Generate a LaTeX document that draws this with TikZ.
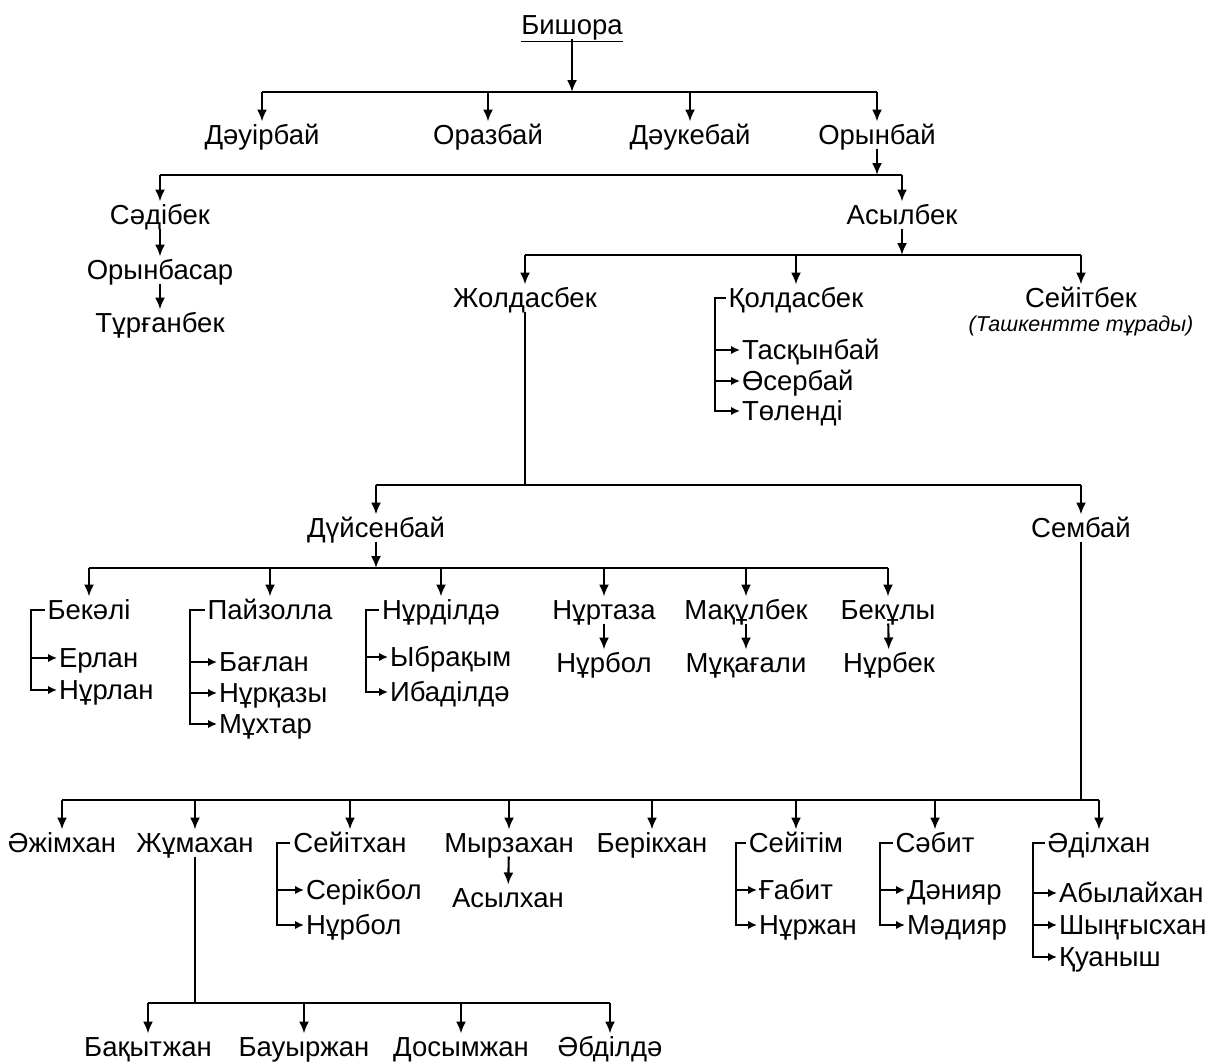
\documentclass[tikz,border=0pt]{standalone}
\usepackage{fontspec}
\setmainfont{Liberation Sans}
\usetikzlibrary{arrows.meta}
\begin{document}
\begin{tikzpicture}[x=1pt,y=-1pt,
  nm/.style={inner sep=0pt, outer sep=3pt, font=\fontsize{27.5}{30}\selectfont, text height=20pt, text depth=1pt},
  ch/.style={nm, anchor=west, outer sep=2pt},
  notestyle/.style={inner sep=0pt, font=\fontsize{21.5}{24}\selectfont\itshape},
  ln/.style={line width=2.1pt},
  arr/.style={ln, -{Latex[length=12pt,width=10pt]}},
  sarr/.style={ln, -{Latex[length=9pt,width=8.5pt]}}]
\useasboundingbox (0,0) rectangle (1211,1063);
\fill[white] (0,0) rectangle (1211,1063);

% level 0
\node[nm] (bish) at (572,25) {\underline{Бишора}};
\coordinate (b0) at (572,92);
\draw[arr] (bish) -- (b0);

% level 1
\node[nm] (dauir) at (262,135) {Дәуірбай};
\node[nm] (oraz)  at (488,135) {Оразбай};
\node[nm] (dauke) at (690,135) {Дәукебай};
\node[nm] (oryn)  at (877,135) {Орынбай};
\draw[ln] (dauir |- b0) -- (oryn |- b0);
\foreach \n in {dauir,oraz,dauke,oryn} \draw[arr] (\n |- b0) -- (\n);

% level 2
\coordinate (b1) at (877,175);
\node[nm] (sadi) at (160,215) {Сәдібек};
\node[nm] (asyl) at (902,215) {Асылбек};
\draw[arr] (oryn) -- (b1);
\draw[ln] (sadi |- b1) -- (asyl |- b1);
\draw[arr] (sadi |- b1) -- (sadi);
\draw[arr] (asyl |- b1) -- (asyl);
\node[nm] (orbas) at (160,270) {Орынбасар};
\node[nm] (turg)  at (160,323) {Тұрғанбек};
\draw[arr] (sadi) -- (orbas);
\draw[arr] (orbas) -- (turg);

% level 3
\coordinate (b2) at (902,255);
\draw[arr] (asyl) -- (b2);
\node[nm] (zhol) at (525,298) {Жолдасбек};
\node[nm] (qold) at (796,298) {Қолдасбек};
\node[nm] (seit) at (1081,298) {Сейітбек};
\node[notestyle] (seitnote) at (1081,326) {(Ташкентте тұрады)};
\draw[ln] (zhol |- b2) -- (seit |- b2);
\foreach \n in {zhol,qold,seit} \draw[arr] (\n |- b2) -- (\n);
\node[ch] (tas)   at (740,350) {Тасқынбай};
\node[ch] (oser)  at (740,381) {Өсербай};
\node[ch] (tolen) at (740,411) {Төленді};
\coordinate (qb) at (715,298);
\draw[sarr] (qold.west) -- (qb) |- (tas.west);
\draw[sarr] (qb) |- (oser.west);
\draw[sarr] (qb) |- (tolen.west);

% level 4
\coordinate (b3) at (525,485);
\node[nm] (duis) at (376,528) {Дүйсенбай};
\node[nm] (semb) at (1081,528) {Сембай};
\draw[ln] (zhol) -- (b3);
\draw[ln] (duis |- b3) -- (semb |- b3);
\draw[arr] (duis |- b3) -- (duis);
\draw[arr] (semb |- b3) -- (semb);

% level 5
\coordinate (b4) at (376,568);
\draw[arr] (duis) -- (b4);
\node[nm] (bekali) at (89,610)  {Бекәлі};
\node[nm] (payz)   at (270,610) {Пайзолла};
\node[nm] (nurd)   at (441,610) {Нұрділдә};
\node[nm] (nurt)   at (604,610) {Нұртаза};
\node[nm] (maqul)  at (746,610) {Мақұлбек};
\node[nm] (bekul)  at (888,610) {Бекұлы};
\draw[ln] (bekali |- b4) -- (bekul |- b4);
\foreach \n in {bekali,payz,nurd,nurt,maqul,bekul} \draw[arr] (\n |- b4) -- (\n);

\node[ch] (erlan)  at (57,658) {Ерлан};
\node[ch] (nurlan) at (57,690) {Нұрлан};
\coordinate (bkb) at (31,610);
\draw[sarr] (bekali.west) -- (bkb) |- (erlan.west);
\draw[sarr] (bkb) |- (nurlan.west);

\node[ch] (baglan)  at (217,662) {Бағлан};
\node[ch] (nurqazy) at (217,693) {Нұрқазы};
\node[ch] (mukhtar) at (217,724) {Мұхтар};
\coordinate (pzb) at (190,610);
\draw[sarr] (payz.west) -- (pzb) |- (baglan.west);
\draw[sarr] (pzb) |- (nurqazy.west);
\draw[sarr] (pzb) |- (mukhtar.west);

\node[ch] (ybraq) at (388,657) {Ыбрақым};
\node[ch] (ibad)  at (388,692) {Ибаділдә};
\coordinate (ndb) at (366,610);
\draw[sarr] (nurd.west) -- (ndb) |- (ybraq.west);
\draw[sarr] (ndb) |- (ibad.west);

\node[nm] (nurbolA) at (604,663) {Нұрбол};
\node[nm] (muqag)   at (746,663) {Мұқағали};
\node[nm] (nurbek)  at (889,663) {Нұрбек};
\draw[arr] (nurt) -- (nurbolA);
\draw[arr] (maqul) -- (muqag);
\draw[arr] (bekul) -- (nurbek);

% level 6
\coordinate (b5) at (1081,800);
\draw[ln] (semb) -- (b5);
\node[nm] (azhim)  at (62,843)   {Әжімхан};
\node[nm] (zhuma)  at (195,843)  {Жұмахан};
\node[nm] (seitkh) at (350,843)  {Сейітхан};
\node[nm] (myrza)  at (509,843)  {Мырзахан};
\node[nm] (berik)  at (652,843)  {Берікхан};
\node[nm] (seitim) at (796,843)  {Сейітім};
\node[nm] (sabit)  at (935,843)  {Сәбит};
\node[nm] (adil)   at (1099,843) {Әділхан};
\draw[ln] (azhim |- b5) -- (adil |- b5);
\foreach \n in {azhim,zhuma,seitkh,myrza,berik,seitim,sabit,adil} \draw[arr] (\n |- b5) -- (\n);

\node[ch] (serik)   at (304,890) {Серікбол};
\node[ch] (nurbolB) at (304,925) {Нұрбол};
\coordinate (skb) at (277,843);
\draw[sarr] (seitkh.west) -- (skb) |- (serik.west);
\draw[sarr] (skb) |- (nurbolB.west);

\node[nm] (asylkh) at (508,898) {Асылхан};
\draw[arr] (myrza) -- (asylkh);

\node[ch] (gabit)   at (757,890) {Ғабит};
\node[ch] (nurzhan) at (757,925) {Нұржан};
\coordinate (smb) at (736,843);
\draw[sarr] (seitim.west) -- (smb) |- (gabit.west);
\draw[sarr] (smb) |- (nurzhan.west);

\node[ch] (daniyar) at (905,890) {Дәнияр};
\node[ch] (madiyar) at (905,925) {Мәдияр};
\coordinate (sbb) at (880,843);
\draw[sarr] (sabit.west) -- (sbb) |- (daniyar.west);
\draw[sarr] (sbb) |- (madiyar.west);

\node[ch] (abylay) at (1057,893) {Абылайхан};
\node[ch] (shyng)  at (1057,925) {Шыңғысхан};
\node[ch] (quan)   at (1057,957) {Қуаныш};
\coordinate (adb) at (1033,843);
\draw[sarr] (adil.west) -- (adb) |- (abylay.west);
\draw[sarr] (adb) |- (shyng.west);
\draw[sarr] (adb) |- (quan.west);

% level 7
\coordinate (b6) at (195,1003);
\draw[ln] (zhuma) -- (b6);
\node[nm] (baqyt) at (148,1047) {Бақытжан};
\node[nm] (bauyr) at (304,1047) {Бауыржан};
\node[nm] (dosym) at (461,1047) {Досымжан};
\node[nm] (abdil) at (610,1047) {Әбділдә};
\draw[ln] (baqyt |- b6) -- (abdil |- b6);
\foreach \n in {baqyt,bauyr,dosym,abdil} \draw[arr] (\n |- b6) -- (\n);
\end{tikzpicture}
\end{document}
